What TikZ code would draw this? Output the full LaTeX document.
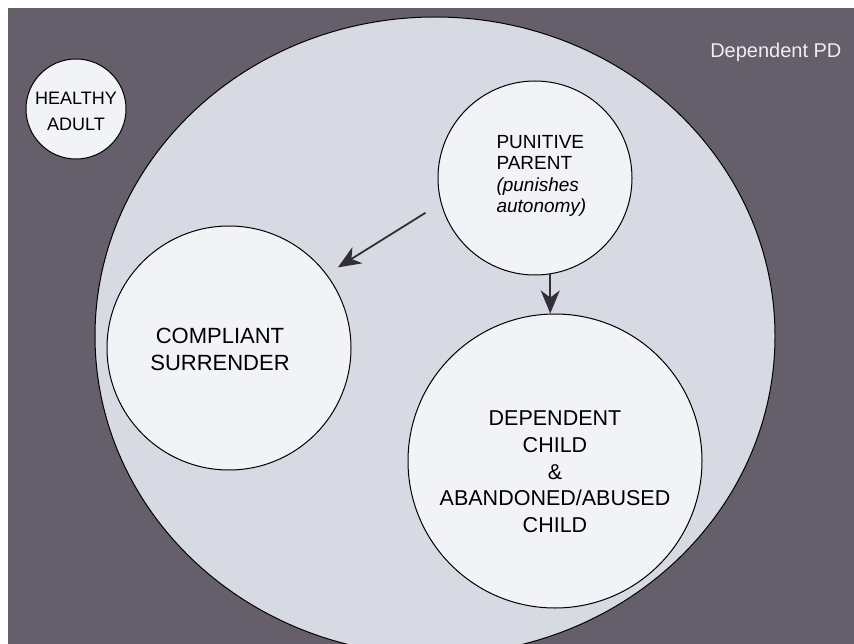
\documentclass[tikz,border=0pt]{standalone}
\usepackage{fontspec}
\setmainfont{Liberation Sans}
\usetikzlibrary{arrows.meta}

\definecolor{bgdark}{RGB}{100,95,107}
\definecolor{bigfill}{RGB}{215,218,227}
\definecolor{partfill}{RGB}{242,243,246}
\definecolor{arrowgray}{RGB}{50,48,54}
\definecolor{pdwhite}{RGB}{238,238,242}

\tikzset{
  part/.style={circle, draw=black, line width=1pt, fill=partfill, inner sep=0pt},
  lbl/.style={font=\fontsize{22}{27}\selectfont, align=center},
  flow/.style={line width=1.8pt, draw=arrowgray, -{Stealth[length=23pt, width=19pt, inset=7pt, fill=arrowgray]}}
}

\begin{document}
\begin{tikzpicture}[x=1pt, y=-1pt]
        \useasboundingbox (0,0) rectangle (854,644);

        % Dark background
        \fill[bgdark] (8,8) rectangle (854,644);

        % Mode circle of the disorder
        \begin{scope}
          \clip (8,8) rectangle (854,644);
          \draw[line width=1pt, fill=bigfill] (435,336) ellipse [x radius=340, y radius=319];
        \end{scope}
        \node[anchor=base east, text=pdwhite, font=\fontsize{20}{24}\selectfont] (pd) at (845,58) {Dependent PD};

        % Modes
        \node[part, minimum size=100pt] (healthy) at (76,109) {};
        \node[part, minimum size=194pt] (punitive) at (535,178) {};
        \node[part, minimum size=244pt] (compliant) at (229,348) {};
        \node[part, minimum size=294pt] (dependent) at (555,461) {};

        % Mode labels
        \node[lbl, font=\fontsize{18}{26}\selectfont] (healthylbl) at (76,111) {HEALTHY\\ADULT};
        \node[lbl, align=left, anchor=west, font=\fontsize{19}{21.5}\selectfont] (punitivelbl) at (493,176)
          {PUNITIVE\\PARENT\\\textit{(punishes}\\\textit{autonomy)}};
        \node[lbl] (compliantlbl) at (220,349) {COMPLIANT\\SURRENDER};
        \node[lbl, font=\fontsize{21.5}{26.7}\selectfont] (dependentlbl) at (555,472)
          {DEPENDENT\\CHILD\\\&\\ABANDONED/ABUSED\\CHILD};

        % Arrows between modes
        \draw[flow, shorten <=18pt, shorten >=13pt] (punitive.195) -- (compliant.37);
        \draw[flow] (punitive.279) -- (punitive.279 |- dependent.north);
\end{tikzpicture}
\end{document}
